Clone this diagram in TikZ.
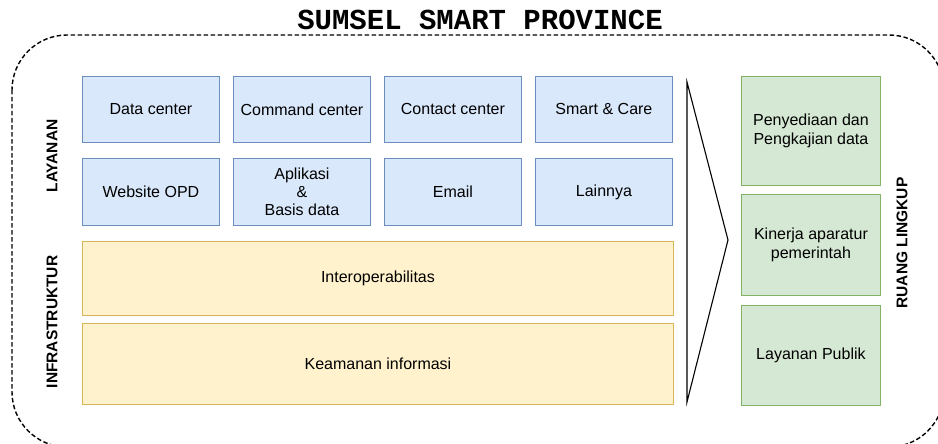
\documentclass[tikz,border=0pt]{standalone}
\usepackage{fontspec}
\setmainfont{Liberation Sans}
\newfontfamily\titlefont{Liberation Mono}
\begin{document}
\begin{tikzpicture}[x=1pt,y=-1pt,
  bluebox/.style={draw={rgb,255:red,108;green,142;blue,191}, fill={rgb,255:red,218;green,232;blue,252}, line width=0.9pt, minimum width=137pt, minimum height=66pt, inner sep=0pt, font=\fontsize{16}{18}\selectfont, align=center, anchor=north west},
  yellowbox/.style={draw={rgb,255:red,214;green,182;blue,86}, fill={rgb,255:red,255;green,242;blue,204}, line width=0.9pt, minimum width=591pt, inner sep=0pt, font=\fontsize{16}{18}\selectfont, anchor=north west},
  greenbox/.style={draw={rgb,255:red,130;green,179;blue,102}, fill={rgb,255:red,213;green,232;blue,212}, line width=0.9pt, minimum width=139pt, inner sep=0pt, font=\fontsize{16}{19}\selectfont, align=center, anchor=north west},
  sidelabel/.style={rotate=90, font=\bfseries\fontsize{15.5}{17}\selectfont, inner sep=0pt}
]
\useasboundingbox (0,0) rectangle (938,444);
\begin{scope}
\clip (0,0) rectangle (938,444);
\draw[line width=1.4pt, dash pattern=on 4.5pt off 2.5pt, rounded corners=55pt] (12,35) rectangle (944,447);
\end{scope}
\node[font=\titlefont\bfseries\fontsize{29}{30}\selectfont, inner sep=0pt] (title) at (480,20) {SUMSEL SMART PROVINCE};

\node[bluebox] (dc) at (82,76) {Data center};
\node[bluebox] (cmd) at (233,76) {Command center};
\node[bluebox] (cc) at (384,76) {Contact center};
\node[bluebox] (sc) at (535,76) {Smart \& Care};
\node[bluebox, minimum height=67pt] (web) at (82,158) {Website OPD};
\node[bluebox, minimum height=67pt] (app) at (233,158) {Aplikasi\\\&\\Basis data};
\node[bluebox, minimum height=67pt] (email) at (384,158) {Email};
\node[bluebox, minimum height=67pt] (lain) at (535,158) {Lainnya};

\node[yellowbox, minimum height=74pt] (inter) at (82,241) {Interoperabilitas};
\node[yellowbox, minimum height=81pt] (keam) at (82,323) {Keamanan informasi};

\node[greenbox, minimum height=109pt] (g1) at (741,76) {Penyediaan dan\\Pengkajian data};
\node[greenbox, minimum height=101pt] (g2) at (741,194) {Kinerja aparatur\\pemerintah};
\node[greenbox, minimum height=100pt] (g3) at (741,305) {Layanan Publik};

\coordinate (ct) at (687,82);
\coordinate (ctip) at (728,240);
\coordinate (cb) at (687,402);
\draw[line width=1.1pt, line join=miter] (ct) -- (ctip) -- (cb) -- cycle;

\node[sidelabel] (lay) at (52,156) {LAYANAN};
\node[sidelabel] (infra) at (52,322) {INFRASTRUKTUR};
\node[sidelabel] (ruang) at (902,243) {RUANG LINGKUP};
\end{tikzpicture}
\end{document}
